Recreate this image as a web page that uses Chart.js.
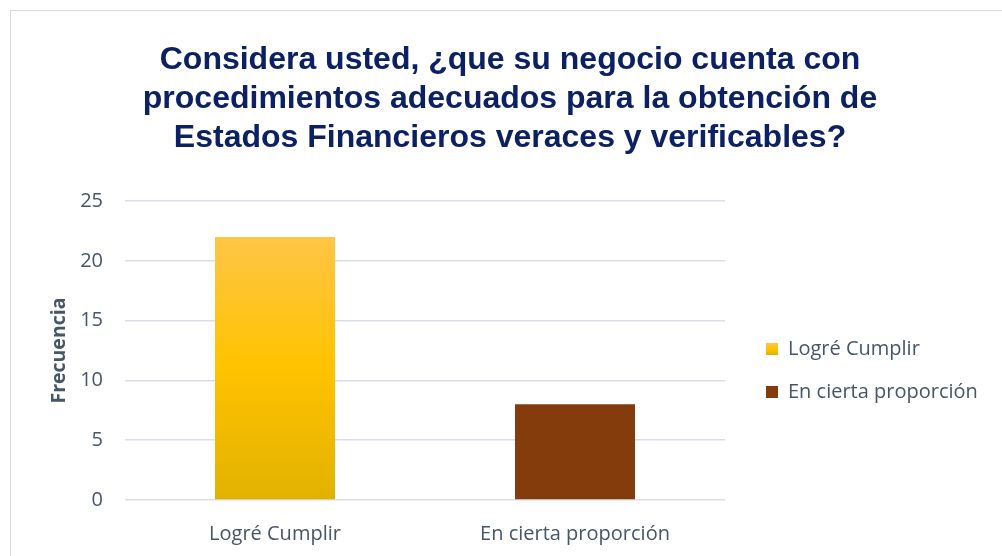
<!DOCTYPE html>
<html><head><meta charset="utf-8">
<script src="https://cdn.jsdelivr.net/npm/chart.js@4.4.1/dist/chart.umd.min.js"></script>
<style>
html,body{margin:0;padding:0;background:#fff;overflow:hidden;width:1002px;height:556px;}
#frame{position:absolute;left:10px;top:10px;width:1100px;height:700px;border:1px solid #D9D9D9;box-sizing:border-box;}
#wrap{position:absolute;left:10px;top:10px;width:1000px;height:546px;}
</style></head><body>
<div id="frame"></div>
<div id="wrap"><canvas id="c" width="1000" height="546"></canvas></div>
<script>
const categories = ["Logré Cumplir", "En cierta proporción"];
const values = [22, 8];
const yTicks = [0, 5, 10, 15, 20, 25];
const titleLines = ["Considera usted, ¿que su negocio cuenta con", "procedimientos adecuados para la obtención de", "Estados Financieros veraces y verificables?"];
const yAxisTitle = "Frecuencia";
const solidColors = ["#FFC000", "#843C0C"];

const FONT = "Open Sans";
const TXT = "#475569";

function goldGradient(ctx, top, bottom){
  const g = ctx.createLinearGradient(0, top, 0, bottom);
  g.addColorStop(0, "#FFC546");
  g.addColorStop(0.5, "#FFC300");
  g.addColorStop(1, "#E2B100");
  return g;
}
function legendSwatch(i){
  const cv = document.createElement('canvas');
  cv.width = 12; cv.height = 12;
  const x = cv.getContext('2d');
  x.fillStyle = i === 0 ? goldGradient(x, 0, 12) : solidColors[i];
  x.fillRect(0,0,12,12);
  return cv;
}

const legendLayout = {
  id: 'legendLayout',
  afterInit(ch) {
    const l = ch.legend;
    if (!l) return;
    const origFit = l.fit.bind(l);
    l.fit = function() { origFit(); this.width = 285; };
  },
  afterLayout(ch) {
    const l = ch.legend;
    if (!l) return;
    l.left += 18; l.right += 18;
    l.top += 20; l.bottom += 20;
  }
};

const chart = new Chart(document.getElementById('c'), {
  type: 'bar',
  data: {
    labels: categories,
    datasets: [{
      data: values,
      backgroundColor: (ctx) => {
        const i = ctx.dataIndex;
        if (i !== 0) return solidColors[i];
        const ch = ctx.chart;
        if (!ch.chartArea || !ch.scales.y) return solidColors[0];
        const y = ch.scales.y;
        return goldGradient(ch.ctx, y.getPixelForValue(values[0]), y.getPixelForValue(0));
      },
      borderWidth: 0,
      barPercentage: 0.4,
      categoryPercentage: 1.0
    }]
  },
  options: {
    responsive: false,
    animation: false,
    layout: { padding: { left: 0, right: 0, top: 0, bottom: 0 } },
    plugins: {
      title: {
        display: true,
        text: titleLines,
        color: "#0B2163",
        font: { family: "Liberation Sans", size: 32, weight: 'bold', lineHeight: 1.22 },
        padding: { top: 31, bottom: 43 }
      },
      legend: {
        position: 'right',
        align: 'center',
        fullSize: false,
        labels: {
          usePointStyle: true,
          color: TXT,
          font: { family: FONT, size: 20 },
          padding: 23,
          boxWidth: 12,
          boxHeight: 12,
          generateLabels: (ch) => categories.map((c, i) => ({
            text: c,
            pointStyle: legendSwatch(i),
            fillStyle: solidColors[i],
            strokeStyle: solidColors[i],
            fontColor: TXT,
            lineWidth: 0,
            hidden: false,
            index: i
          }))
        },
        onClick: () => {}
      },
      tooltip: { enabled: false }
    },
    scales: {
      x: {
        grid: { display: false },
        border: { display: false },
        afterFit: (s) => { s.height = 56; },
        ticks: { color: TXT, font: { family: FONT, size: 20 }, padding: 14 }
      },
      y: {
        min: 0, max: 25,
        afterBuildTicks: (s) => { s.ticks = yTicks.map(v => ({ value: v })); },
        afterFit: (s) => { s.width = 115; },
        grid: { color: "#D9DEE7", lineWidth: 1.5, drawTicks: false },
        border: { display: false },
        ticks: { color: TXT, font: { family: FONT, size: 20 }, padding: 22 },
        title: {
          display: true, text: yAxisTitle, color: TXT,
          font: { family: FONT, size: 19.5, weight: 'bold' }, padding: { top: 38, bottom: 0 }
        }
      }
    }
  },
  plugins: [legendLayout]
});
</script>
</body></html>
